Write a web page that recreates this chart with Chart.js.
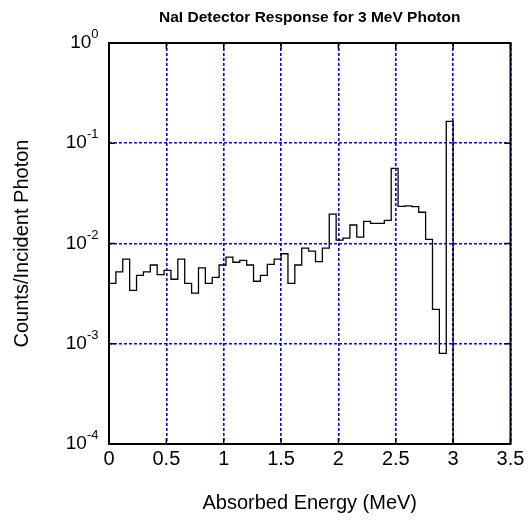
<!DOCTYPE html>
<html>
<head>
<meta charset="utf-8">
<script src="https://cdn.jsdelivr.net/npm/chart.js@4.4.0/dist/chart.umd.min.js"></script>
<style>
  body { margin: 0; background: #fff; }
</style>
</head>
<body>
<canvas id="myChart" width="528" height="520"></canvas>
<script>
// bin edges (MeV); the last edge closes the final bin
const binEdges = [0.00, 0.06, 0.12, 0.18, 0.24, 0.30, 0.36, 0.42, 0.48, 0.54,
  0.60, 0.66, 0.72, 0.78, 0.84, 0.90, 0.96, 1.02, 1.08, 1.14,
  1.20, 1.26, 1.32, 1.38, 1.44, 1.50, 1.56, 1.62, 1.68, 1.74,
  1.80, 1.86, 1.92, 1.98, 2.04, 2.10, 2.16, 2.22, 2.28, 2.34,
  2.40, 2.46, 2.52, 2.58, 2.64, 2.70, 2.76, 2.82, 2.88, 2.94, 3.00];
// counts per incident photon in each bin
const counts = [0.0040, 0.0052, 0.0070, 0.0034, 0.0048, 0.0052, 0.0061, 0.0049, 0.0054, 0.0044,
  0.0070, 0.0040, 0.0032, 0.0057, 0.0040, 0.0046, 0.0061, 0.0073, 0.0065, 0.0068,
  0.0061, 0.0042, 0.0048, 0.0062, 0.0070, 0.0079, 0.0040, 0.0061, 0.0090, 0.0084,
  0.0066, 0.0090, 0.0196, 0.0108, 0.0113, 0.0153, 0.0116, 0.0166, 0.0159, 0.0159,
  0.0170, 0.0562, 0.0235, 0.0237, 0.0233, 0.0205, 0.0110, 0.0022, 0.0008, 0.1656];
const xTicks = [0, 0.5, 1, 1.5, 2, 2.5, 3, 3.5];
const xTickLabels = ['0', '0.5', '1', '1.5', '2', '2.5', '3', '3.5'];
const yTicks = [1, 1e-1, 1e-2, 1e-3, 1e-4];
const yTickExp = ['0', '-1', '-2', '-3', '-4'];
const yMin = 1e-4;
const yMax = 1;

const FONT = "'Liberation Sans', Arial, sans-serif";
const gridBlue = '#0000ee';

// stairs: each bin edge carries that bin's value, the closing edge drops to the axis floor
const stairs = binEdges.map((e, i) => ({ x: e, y: i < counts.length ? counts[i] : yMin }));

// frame, inward ticks, title and 10^n labels
const frameAndLabels = {
  id: 'frameAndLabels',
  afterDraw(chart) {
    const ctx = chart.ctx;
    const { left, right, top, bottom } = chart.chartArea;
    const xs = chart.scales.x;
    const ys = chart.scales.y;
    ctx.save();
    ctx.strokeStyle = '#000';
    ctx.lineWidth = 1.5;
    ctx.beginPath();
    xTicks.forEach(v => {
      const px = xs.getPixelForValue(v);
      ctx.moveTo(px, bottom); ctx.lineTo(px, bottom - 6);
      ctx.moveTo(px, top); ctx.lineTo(px, top + 6);
    });
    yTicks.forEach(v => {
      const py = ys.getPixelForValue(v);
      ctx.moveTo(left, py); ctx.lineTo(left + 6, py);
      ctx.moveTo(right, py); ctx.lineTo(right - 6, py);
    });
    ctx.stroke();
    ctx.lineWidth = 2;
    ctx.strokeRect(left, top, right - left, bottom - top);

    // y tick labels with superscript exponent
    ctx.fillStyle = '#000';
    ctx.textBaseline = 'alphabetic';
    ctx.textAlign = 'right';
    const labelRight = left - 10.5;
    yTicks.forEach((v, i) => {
      const py = ys.getPixelForValue(v);
      ctx.font = '13px ' + FONT;
      const ew = ctx.measureText(yTickExp[i]).width;
      ctx.fillText(yTickExp[i], labelRight, py - 5);
      ctx.font = '19px ' + FONT;
      ctx.fillText('10', labelRight - ew, py + 5);
    });

    // title centred over the plot box
    ctx.font = 'bold 15.5px ' + FONT;
    ctx.textAlign = 'center';
    ctx.textBaseline = 'middle';
    ctx.fillText('NaI Detector Response for 3 MeV Photon', (left + right) / 2, 18);
    ctx.restore();
  }
};

const config = {
  type: 'line',
  data: {
    datasets: [{
      data: stairs,
      borderColor: '#000',
      borderWidth: 1.3,
      pointRadius: 0,
      fill: false,
      stepped: true,
    }]
  },
  options: {
    responsive: false,
    animation: false,
    devicePixelRatio: 1,
    layout: { padding: { top: 43, right: 17.5, left: 0, bottom: 0 } },
    plugins: {
      legend: { display: false },
      tooltip: { enabled: false },
      title: { display: false },
    },
    scales: {
      x: {
        type: 'linear',
        min: 0,
        max: 3.5,
        afterBuildTicks: s => { s.ticks = xTicks.map(v => ({ value: v })); },
        afterFit: s => { s.height = 76; },
        ticks: {
          color: '#000',
          font: { family: FONT, size: 20 },
          padding: 3,
          maxRotation: 0,
          callback: (v, i) => xTickLabels[i],
        },
        grid: { color: gridBlue, lineWidth: 1.6, drawTicks: false },
        border: { display: false, dash: [3, 2] },
        title: {
          display: true,
          text: 'Absorbed Energy (MeV)',
          color: '#000',
          font: { family: FONT, size: 20 },
          padding: { top: 0, bottom: 5 },
        },
      },
      y: {
        type: 'logarithmic',
        min: yMin,
        max: yMax,
        afterBuildTicks: s => { s.ticks = yTicks.map(v => ({ value: v })); },
        afterFit: s => { s.width = 109; },
        ticks: { display: false },
        grid: { color: gridBlue, lineWidth: 1.6, drawTicks: false },
        border: { display: false, dash: [3, 2] },
        title: {
          display: true,
          text: 'Counts/Incident Photon',
          color: '#000',
          font: { family: FONT, size: 20 },
          padding: { top: 10, bottom: 0 },
        },
      },
    },
  },
  plugins: [frameAndLabels],
};

new Chart(document.getElementById('myChart'), config);
</script>
</body>
</html>
